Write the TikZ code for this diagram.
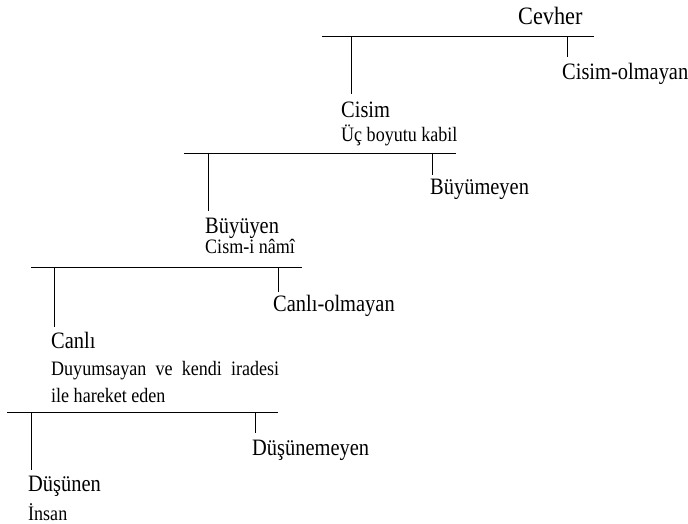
\documentclass[tikz,border=0pt]{standalone}
\usepackage{fontspec}
\setmainfont{Liberation Serif}
\newfontfamily\bigfam[FakeStretch=0.87]{Liberation Serif}
\newfontfamily\smallfam[FakeStretch=0.88]{Liberation Serif}
\newfontfamily\rootfam[FakeStretch=0.89]{Liberation Serif}
\begin{document}
\begin{tikzpicture}[x=1pt,y=-1pt,
  big/.style={anchor=base west,inner sep=0pt,font=\bigfam\fontsize{23.5}{26}\selectfont},
  small/.style={anchor=base west,inner sep=0pt,font=\smallfam\fontsize{20.5}{26.5}\selectfont},
  ln/.style={line width=0.9pt,black}]
\useasboundingbox (0,0) rectangle (688,524);
% texts
\node[big,font=\rootfam\fontsize{25}{28}\selectfont] (cevher) at (518,25) {Cevher};
\node[big] (cisimol) at (562,80) {Cisim-olmayan};
\node[big] (cisim) at (341,118) {Cisim};
\node[small] (ucb) at (341,142) {Üç boyutu kabil};
\node[big] (buyumeyen) at (430,194) {Büyümeyen};
\node[big] (buyuyen) at (205,233) {Büyüyen};
\node[small] (cism) at (205,253) {Cism-i nâmî};
\node[big] (canliol) at (273,311) {Canlı-olmayan};
\node[big] (canli) at (51,348) {Canlı};
\node[small,anchor=base west,text width=228pt,align=justify] (duy) at (51,375.5) {Duyumsayan ve kendi iradesi ile hareket eden};
\node[big] (dusunemeyen) at (252,455) {Düşünemeyen};
\node[big] (dusunen) at (28,491) {Düşünen};
\node[small] (insan) at (28,520) {İnsan};
% bars
\coordinate (b1l) at (322,36); \coordinate (b1r) at (594,36);
\coordinate (b2l) at (184,153); \coordinate (b2r) at (456,153);
\coordinate (b3l) at (31,267.5); \coordinate (b3r) at (302,267.5);
\coordinate (b4l) at (7,412); \coordinate (b4r) at (278,412);
\draw[ln] (b1l) -- (b1r);
\draw[ln] (b2l) -- (b2r);
\draw[ln] (b3l) -- (b3r);
\draw[ln] (b4l) -- (b4r);
% vertical stems
\coordinate (v1a) at (351,36); \coordinate (v1b) at (351,94);
\coordinate (v1c) at (567,36); \coordinate (v1d) at (567,57);
\coordinate (v2a) at (208.5,153); \coordinate (v2b) at (208.5,211);
\coordinate (v2c) at (432.5,153); \coordinate (v2d) at (432.5,175);
\coordinate (v3a) at (54.5,267.5); \coordinate (v3b) at (54.5,327);
\coordinate (v3c) at (278.5,267.5); \coordinate (v3d) at (278.5,292);
\coordinate (v4a) at (31.5,412); \coordinate (v4b) at (31.5,470);
\coordinate (v4c) at (255,412); \coordinate (v4d) at (255,433);
\draw[ln] (v1a) -- (v1b);
\draw[ln] (v1c) -- (v1d);
\draw[ln] (v2a) -- (v2b);
\draw[ln] (v2c) -- (v2d);
\draw[ln] (v3a) -- (v3b);
\draw[ln] (v3c) -- (v3d);
\draw[ln] (v4a) -- (v4b);
\draw[ln] (v4c) -- (v4d);
\end{tikzpicture}
\end{document}
